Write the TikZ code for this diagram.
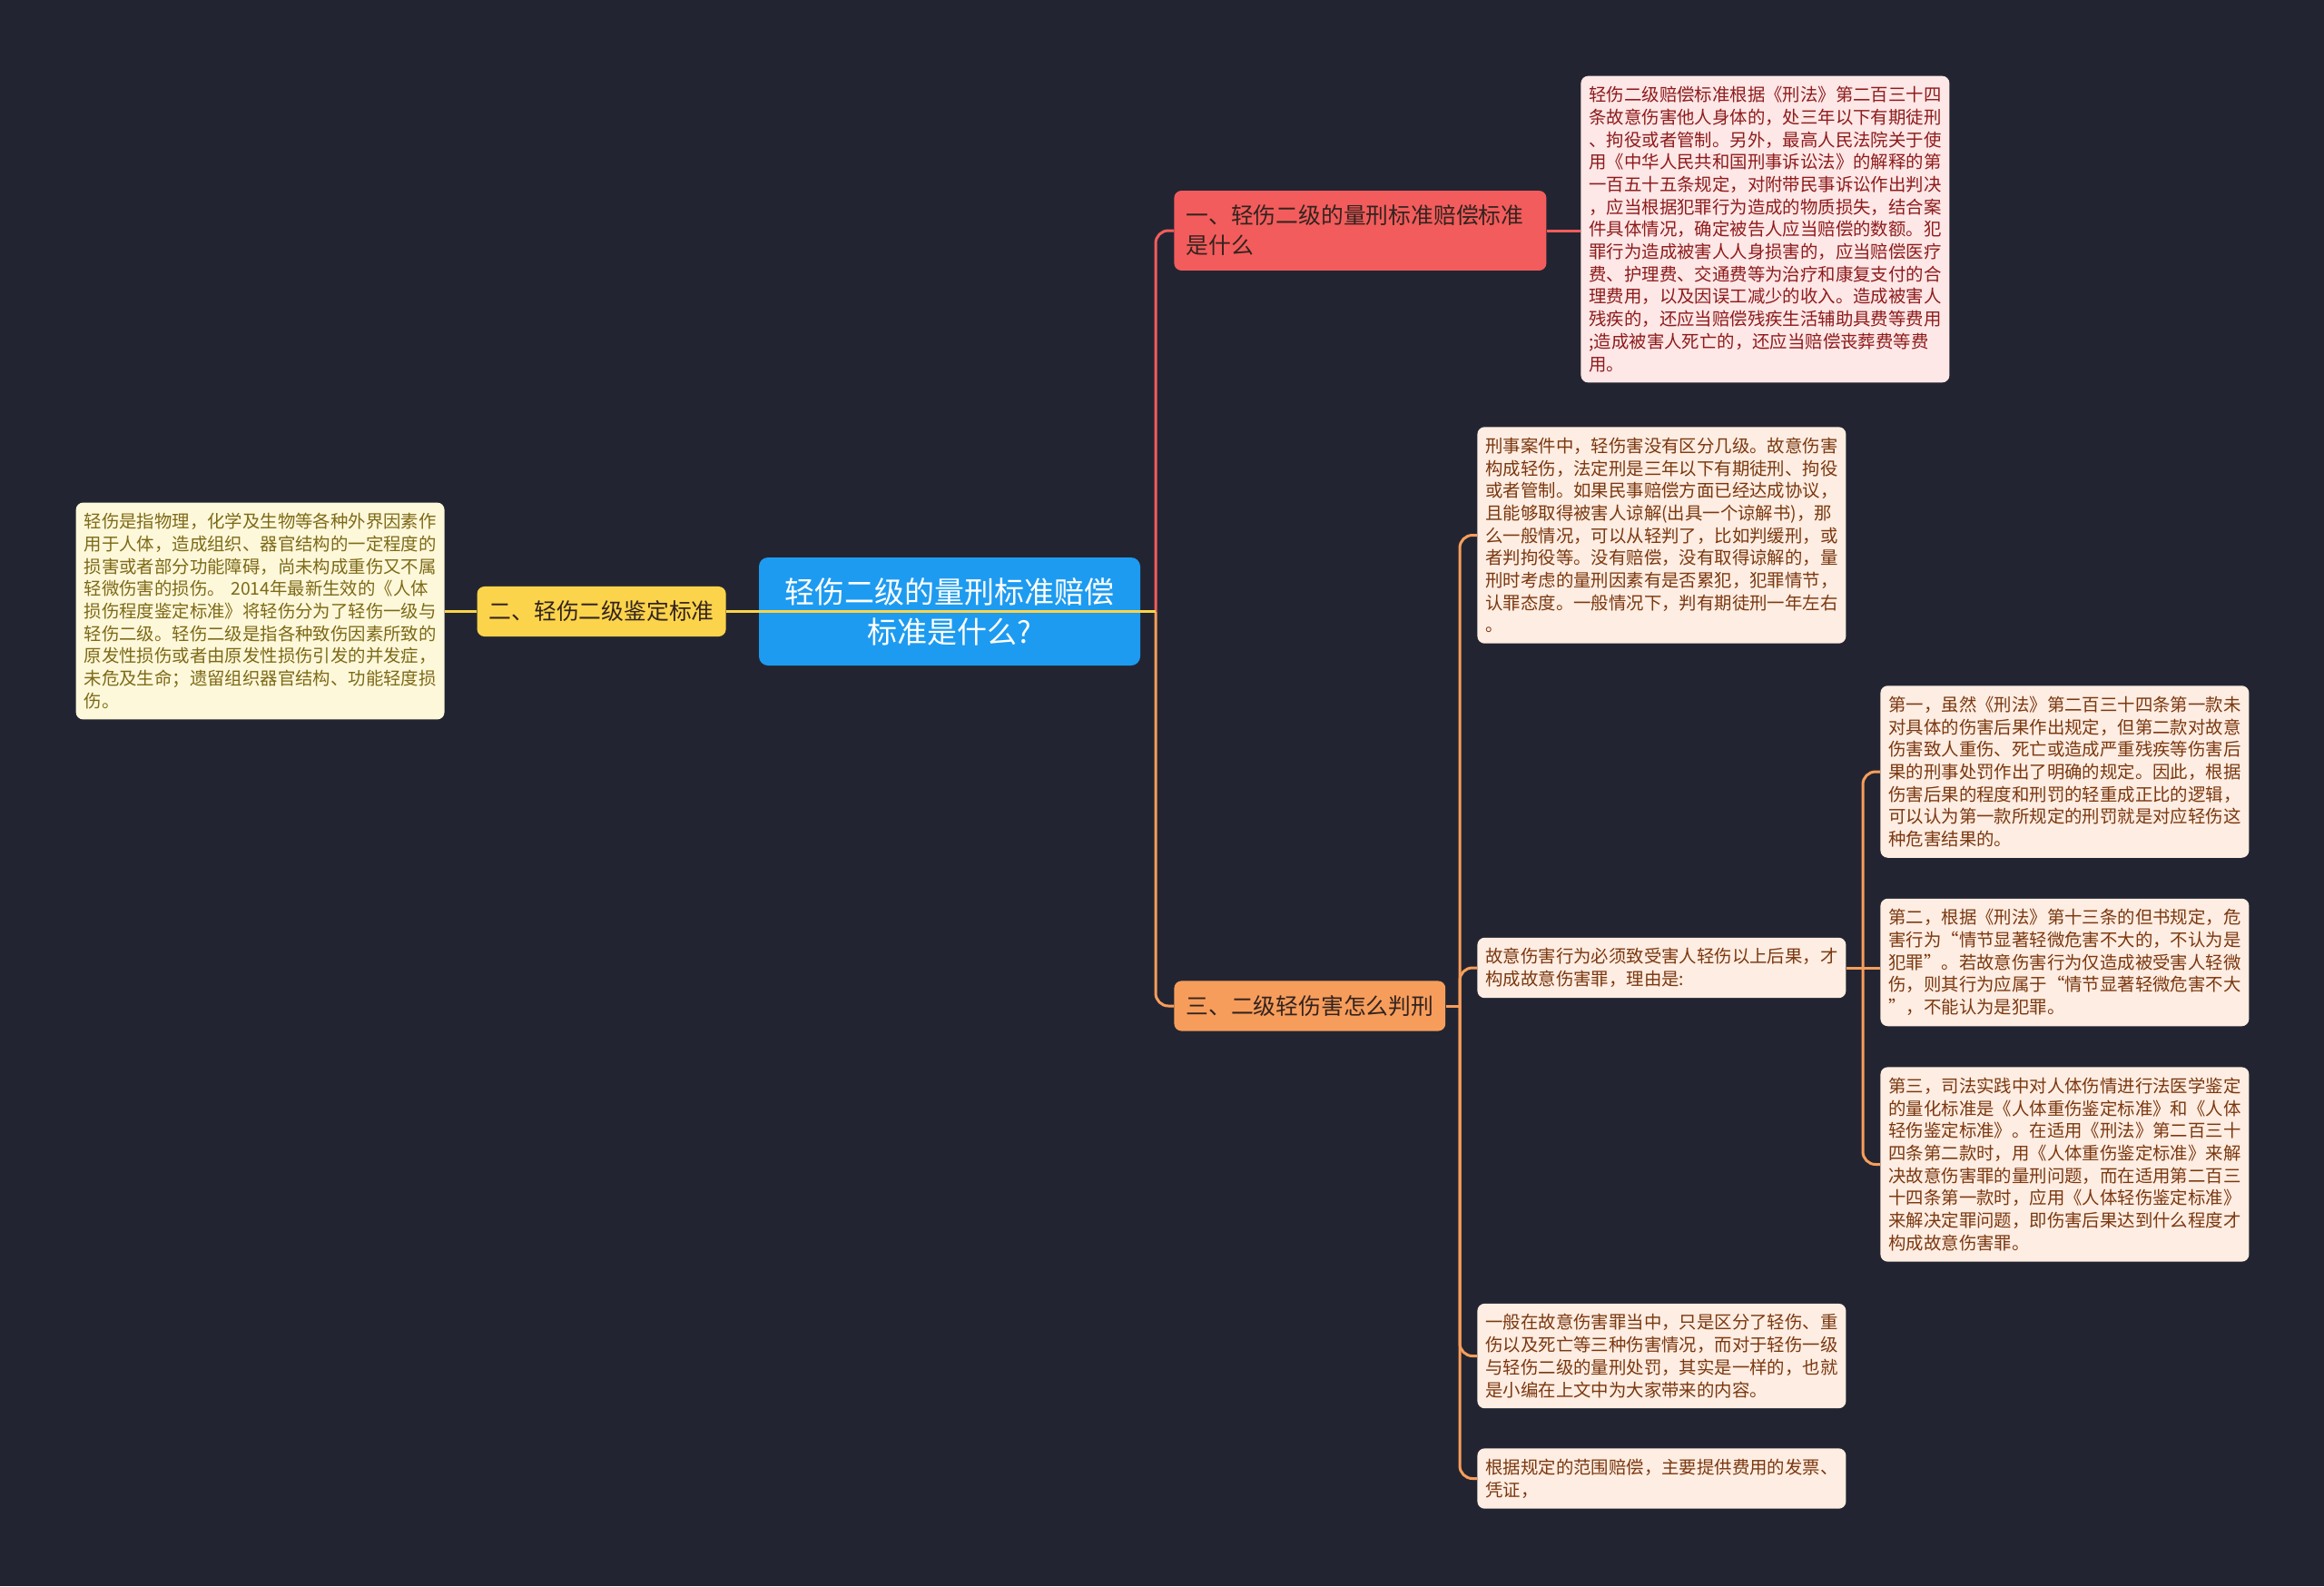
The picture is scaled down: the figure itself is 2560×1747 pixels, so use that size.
\documentclass[tikz,border=0pt]{standalone}
\usepackage{fontspec}
\newfontfamily\cjk{Noto Sans CJK SC}
\usepackage{xcolor}
\definecolor{fondo}{HTML}{222531}
\definecolor{azul}{HTML}{1D9BF0}
\definecolor{rojo}{HTML}{F35C5C}
\definecolor{amarillo}{HTML}{FBD44B}
\definecolor{naranja}{HTML}{F79D5B}
\definecolor{tinta}{HTML}{33231F}
\definecolor{rojoclaro}{HTML}{FDE7E7}
\definecolor{textorojo}{HTML}{8E1B1B}
\definecolor{amarilloclaro}{HTML}{FEF8DB}
\definecolor{textoamarillo}{HTML}{7D6A17}
\definecolor{naranjaclaro}{HTML}{FEEDE2}
\definecolor{textonaranja}{HTML}{7A3810}

\begin{document}
\begin{tikzpicture}[x=0.5pt, y=-0.5pt,
    raiz/.style={fill=azul, text=white, rounded corners=5pt, minimum width=210pt,
      minimum height=59.5pt, align=center, font=\cjk\fontsize{16.5}{22}\selectfont},
    rama/.style={fill=#1, text=tinta, rounded corners=4pt, inner xsep=6.5pt,
      inner ysep=8pt, align=left, font=\cjk\fontsize{12.4}{16.5}\selectfont},
    hoja/.style={rounded corners=4pt, inner xsep=4.5pt, inner ysep=5.8pt,
      text width=194pt, align=left, font=\cjk\fontsize{9.7}{12.35}\selectfont},
    hojaroja/.style={hoja, fill=rojoclaro, text=textorojo},
    hojaamarilla/.style={hoja, fill=amarilloclaro, text=textoamarillo},
    hojanaranja/.style={hoja, fill=naranjaclaro, text=textonaranja},
    linea/.style={draw=#1, line width=1.5pt, rounded corners=7pt}]
  \fill[fondo] (0,0) rectangle (2560,1747);
  \useasboundingbox (0,0) rectangle (2560,1747);

  % centro y ramas
  \node[raiz] (raiz) at (1046,673.5) {轻伤二级的量刑标准赔偿\\标准是什么?};
  \node[rama=rojo, text width=192pt, anchor=west] (r1) at (1293,254)
    {一、轻伤二级的量刑标准赔偿标准\\是什么};
  \node[rama=amarillo, anchor=east] (r2) at (800,673.5) {二、轻伤二级鉴定标准};
  \node[rama=naranja, anchor=west] (r3) at (1293,1108) {三、二级轻伤害怎么判刑};

  % hojas
  \node[hojaroja, anchor=west] (h1) at (1741,252.5) {轻伤二级赔偿标准根据《刑法》第二百三十四\\
    条故意伤害他人身体的，处三年以下有期徒刑\\、拘役或者管制。另外，最高人民法院关于使\\
    用《中华人民共和国刑事诉讼法》的解释的第\\一百五十五条规定，对附带民事诉讼作出判决\\
    ，应当根据犯罪行为造成的物质损失，结合案\\件具体情况，确定被告人应当赔偿的数额。犯\\
    罪行为造成被害人人身损害的，应当赔偿医疗\\费、护理费、交通费等为治疗和康复支付的合\\
    理费用，以及因误工减少的收入。造成被害人\\残疾的，还应当赔偿残疾生活辅助具费等费用\\
    ;造成被害人死亡的，还应当赔偿丧葬费等费\\用。};
  \node[hojaamarilla, anchor=east] (h2) at (490,673) {轻伤是指物理，化学及生物等各种外界因素作\\
    用于人体，造成组织、器官结构的一定程度的\\损害或者部分功能障碍，尚未构成重伤又不属\\
    轻微伤害的损伤。 2014年最新生效的《人体\\损伤程度鉴定标准》将轻伤分为了轻伤一级与\\
    轻伤二级。轻伤二级是指各种致伤因素所致的\\原发性损伤或者由原发性损伤引发的并发症，\\
    未危及生命；遗留组织器官结构、功能轻度损\\伤。};
  \node[hojanaranja, anchor=west] (h3a) at (1627,589.5) {刑事案件中，轻伤害没有区分几级。故意伤害\\
    构成轻伤，法定刑是三年以下有期徒刑、拘役\\或者管制。如果民事赔偿方面已经达成协议，\\
    且能够取得被害人谅解(出具一个谅解书)，那\\么一般情况，可以从轻判了，比如判缓刑，或\\
    者判拘役等。没有赔偿，没有取得谅解的，量\\刑时考虑的量刑因素有是否累犯，犯罪情节，\\
    认罪态度。一般情况下，判有期徒刑一年左右\\。};
  \node[hojanaranja, anchor=west] (h3b) at (1627,1066) {故意伤害行为必须致受害人轻伤以上后果，才\\
    构成故意伤害罪，理由是:};
  \node[hojanaranja, anchor=west] (h3c) at (1627,1493.5) {一般在故意伤害罪当中，只是区分了轻伤、重\\
    伤以及死亡等三种伤害情况，而对于轻伤一级\\与轻伤二级的量刑处罚，其实是一样的，也就\\
    是小编在上文中为大家带来的内容。};
  \node[hojanaranja, anchor=west] (h3d) at (1627,1628.5) {根据规定的范围赔偿，主要提供费用的发票、\\
    凭证，};
  \node[hojanaranja, anchor=west] (s1) at (2071,850) {第一，虽然《刑法》第二百三十四条第一款未\\
    对具体的伤害后果作出规定，但第二款对故意\\伤害致人重伤、死亡或造成严重残疾等伤害后\\
    果的刑事处罚作出了明确的规定。因此，根据\\伤害后果的程度和刑罚的轻重成正比的逻辑，\\
    可以认为第一款所规定的刑罚就是对应轻伤这\\种危害结果的。};
  \node[hojanaranja, anchor=west] (s2) at (2071,1060) {第二，根据《刑法》第十三条的但书规定，危\\
    害行为“情节显著轻微危害不大的，不认为是\\犯罪”。若故意伤害行为仅造成被受害人轻微\\
    伤，则其行为应属于“情节显著轻微危害不大\\”，不能认为是犯罪。};
  \node[hojanaranja, anchor=west] (s3) at (2071,1282.5) {第三，司法实践中对人体伤情进行法医学鉴定\\
    的量化标准是《人体重伤鉴定标准》和《人体\\轻伤鉴定标准》。在适用《刑法》第二百三十\\
    四条第二款时，用《人体重伤鉴定标准》来解\\决故意伤害罪的量刑问题，而在适用第二百三\\
    十四条第一款时，应用《人体轻伤鉴定标准》\\来解决定罪问题，即伤害后果达到什么程度才\\
    构成故意伤害罪。};

  % conexiones
  \coordinate (tronco) at (1273,673.5);
  \coordinate (tronco3) at (1608,1108);
  \coordinate (tronco4) at (2052,1066);
  \draw[linea=naranja] (raiz.east) -- (tronco);
  \draw[linea=rojo] (tronco) |- (r1.west);
  \draw[linea=naranja] (tronco) |- (r3.west);
  \draw[linea=amarillo] (r2.east) -- (r2.east -| tronco);
  \draw[linea=amarillo] (r2.west) -- (r2.west -| h2.east);
  \draw[linea=rojo] (r1.east) -- (r1.east -| h1.west);
  \draw[linea=naranja] (r3.east) -- (tronco3);
  \draw[linea=naranja] (tronco3) |- (h3a.west);
  \draw[linea=naranja] (tronco3) |- (h3b.west);
  \draw[linea=naranja] (tronco3) |- (h3c.west);
  \draw[linea=naranja] (tronco3) |- (h3d.west);
  \draw[linea=naranja] (h3b.east) -- (tronco4);
  \draw[linea=naranja] (tronco4) |- (s1.west);
  \draw[linea=naranja] (tronco4) -- (tronco4 -| s2.west);
  \draw[linea=naranja] (tronco4) |- (s3.west);
\end{tikzpicture}
\end{document}
